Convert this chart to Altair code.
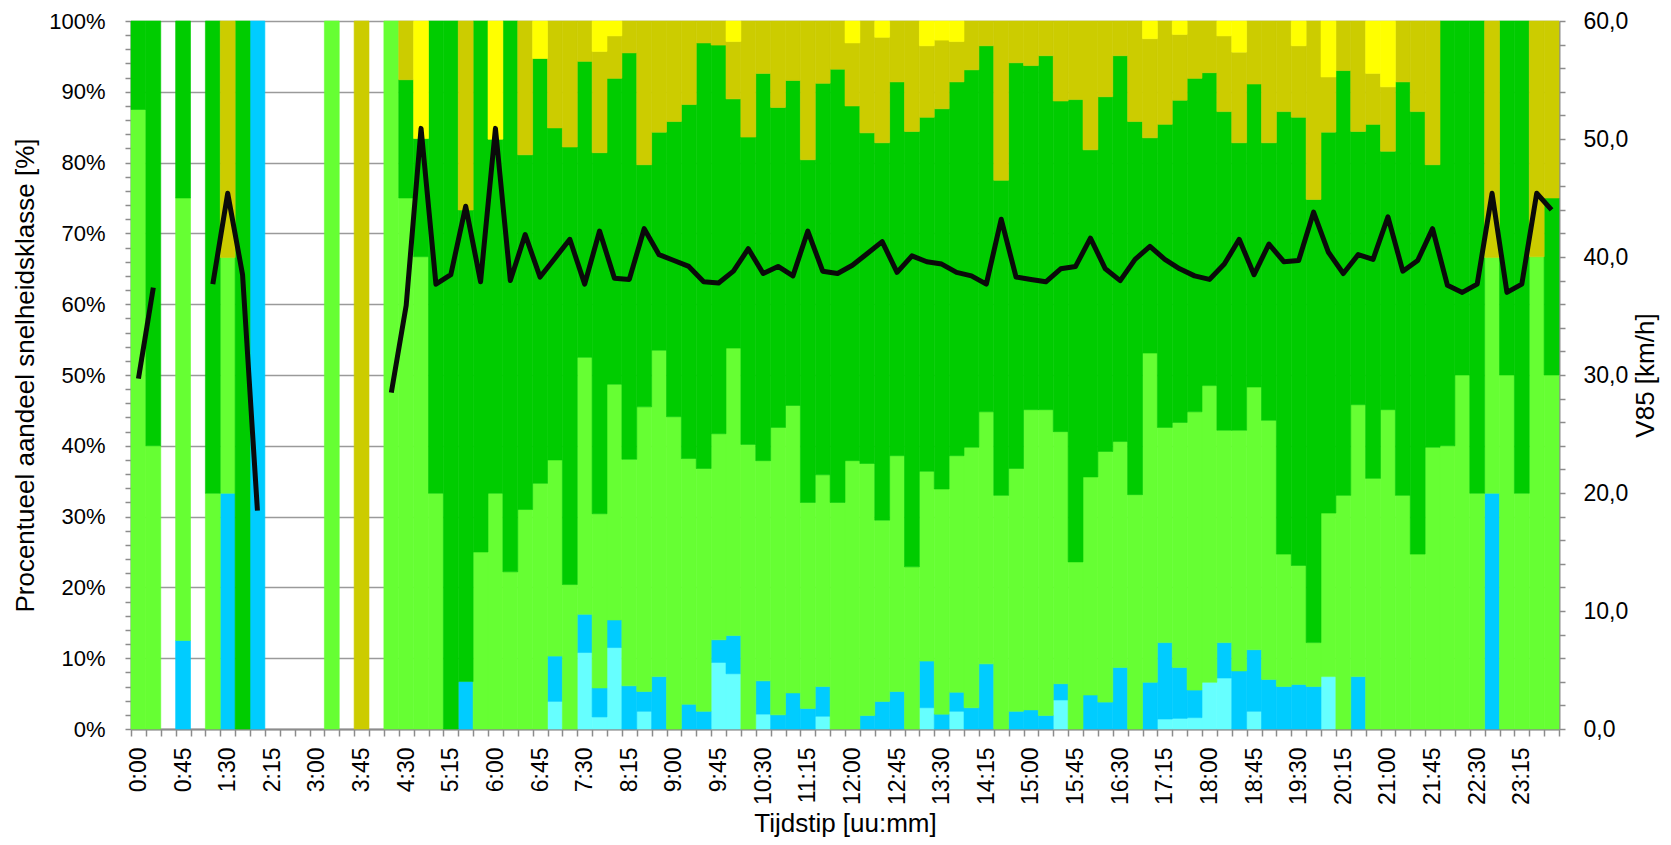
import altair as alt
import pandas as pd

# ---------------- data ----------------
tijden = [f"{u}:{m:02d}" for u in range(24) for m in (0, 15, 30, 45)]
tijd_labels = tijden[::3]

klassen = ["klasse 1", "klasse 2", "klasse 3", "klasse 4", "klasse 5", "klasse 6"]
kleuren = ["#66FFFF", "#00CCFF", "#66FF33", "#00CC00", "#CCCC00", "#FFFF00"]

# percentages per 15-minute slot (96 slots)
k1 = [0, 0, 0, 0, 0, 0, 0, 0, 0, 0, 0, 0, 0, 0, 0, 0,
      0, 0, 0, 0, 0, 0, 0, 0, 0, 0, 0, 0, 3.9, 0, 10.8, 1.7,
      11.5, 0, 2.5, 0, 0, 0, 0, 9.4, 7.8, 0, 2.1, 0, 0, 0, 1.8, 0,
      0, 0, 0, 0, 0, 3.0, 0, 2.5, 0, 0, 0, 0, 0, 0, 4.1, 0,
      0, 0, 0, 0, 0, 1.4, 1.5, 1.6, 6.6, 7.2, 0, 2.5, 0, 0, 0, 0,
      7.4, 0, 0, 0, 0, 0, 0, 0, 0, 0, 0, 0, 0, 0, 0, 0]
k2 = [0, 0, 0, 12.5, 0, 0, 33.3, 0, 100, 0, 0, 0, 0, 0, 0, 0,
      0, 0, 0, 0, 0, 0, 6.7, 0, 0, 0, 0, 0, 6.4, 0, 5.4, 4.1,
      3.9, 6.1, 2.8, 7.4, 0, 3.5, 2.5, 3.2, 5.4, 0, 4.7, 2.0, 5.1, 2.9, 4.2, 0,
      0, 1.9, 3.9, 5.3, 0, 6.6, 2.1, 2.7, 3.0, 9.2, 0, 2.5, 2.7, 1.9, 2.3, 0,
      4.8, 3.8, 8.7, 0, 6.6, 10.8, 7.2, 3.9, 0, 5.0, 8.2, 8.7, 7.0, 6.0, 6.3, 6.0,
      0, 0, 7.4, 0, 0, 0, 0, 0, 0, 0, 0, 33.3, 0, 0, 0, 0]
k3 = [87.5, 40, 0, 62.5, 0, 33.3, 33.3, 0, 0, 0, 0, 0, 0, 100, 0, 0,
      0, 100, 75, 66.7, 33.3, 0, 0, 25, 33.3, 22.2, 31.0, 34.7, 27.7, 20.4, 36.3, 24.6,
      33.3, 32.0, 40.2, 46.1, 44.1, 34.7, 34.3, 29.1, 40.6, 40.2, 31.1, 40.6, 40.6, 29.1, 29.9, 32.0,
      37.9, 35.6, 25.6, 33.3, 22.9, 26.8, 31.8, 33.4, 36.8, 35.6, 33.0, 34.3, 42.4, 43.2, 35.6, 23.6,
      30.8, 35.4, 31.9, 33.1, 46.5, 30.4, 34.6, 39.3, 41.9, 30.0, 34.0, 37.1, 36.6, 18.7, 16.8, 6.2,
      23.1, 33.0, 38.4, 35.4, 45.1, 33.0, 24.7, 39.8, 40, 50, 33.3, 33.3, 50, 33.3, 66.7, 50]
k4 = [12.5, 60, 0, 25, 0, 66.7, 0, 100, 0, 0, 0, 0, 0, 0, 0, 0,
      0, 0, 16.7, 16.7, 66.7, 100, 66.6, 75, 50, 77.8, 50.1, 60.0, 46.9, 61.8, 41.8, 51.0,
      43.2, 57.4, 34.2, 30.8, 41.7, 50.0, 60.1, 54.9, 35.2, 43.4, 54.7, 45.2, 45.9, 48.4, 55.3, 61.2,
      50.1, 46.7, 53.3, 52.8, 61.5, 50.0, 53.7, 52.8, 53.3, 51.7, 44.5, 57.3, 48.6, 50.0, 46.7, 65.3,
      46.2, 50.1, 54.5, 52.7, 30.4, 42.8, 45.5, 47.1, 44.2, 45.0, 40.6, 42.8, 39.2, 62.5, 63.3, 62.6,
      53.8, 60.0, 38.6, 50.0, 36.5, 58.4, 62.5, 39.9, 60, 50, 66.7, 0, 50, 66.7, 0, 25]
k5 = [0, 0, 0, 0, 0, 0, 33.4, 0, 0, 0, 0, 0, 0, 0, 0, 100,
      0, 0, 8.3, 0, 0, 0, 26.7, 0, 0, 0, 18.9, 0, 15.1, 17.8, 5.7, 14.3,
      6.0, 4.5, 20.3, 15.7, 14.2, 11.8, 3.1, 3.4, 8.1, 16.4, 7.4, 12.2, 8.4, 19.6, 8.8, 6.8,
      8.9, 15.8, 14.9, 8.6, 15.6, 10.1, 9.7, 5.7, 6.9, 3.5, 22.5, 5.9, 6.3, 4.9, 11.3, 11.1,
      18.2, 10.7, 4.9, 14.2, 14.0, 14.6, 9.3, 8.1, 7.3, 10.7, 12.8, 8.9, 17.2, 12.8, 10.1, 25.2,
      7.8, 7.0, 15.6, 7.2, 9.1, 8.6, 12.8, 20.3, 0, 0, 0, 33.4, 0, 0, 33.3, 25]
k6 = [0, 0, 0, 0, 0, 0, 0, 0, 0, 0, 0, 0, 0, 0, 0, 0,
      0, 0, 0, 16.6, 0, 0, 0, 0, 16.7, 0, 0, 5.3, 0, 0, 0, 4.3,
      2.1, 0, 0, 0, 0, 0, 0, 0, 2.9, 0, 0, 0, 0, 0, 0, 0,
      3.1, 0, 2.3, 0, 0, 3.5, 2.7, 2.9, 0, 0, 0, 0, 0, 0, 0, 0,
      0, 0, 0, 0, 2.5, 0, 1.9, 0, 0, 2.1, 4.4, 0, 0, 0, 3.5, 0,
      7.9, 0, 0, 7.4, 9.3, 0, 0, 0, 0, 0, 0, 0, 0, 0, 0, 0]

# V85 per slot (km/h), None = no line
v85 = [29.7, 37.4, None, None, None, 37.7, 45.4, 38.5, 18.5, None, None, None, None, None, None, None,
       None, 28.5, 35.9, 50.9, 37.7, 38.5, 44.3, 37.9, 50.9, 38.0, 41.9, 38.3, 39.9, 41.5, 37.7, 42.2,
       38.2, 38.1, 42.4, 40.2, 39.7, 39.2, 37.9, 37.8, 38.8, 40.7, 38.6, 39.2, 38.4, 42.2, 38.8, 38.6,
       39.3, 40.3, 41.3, 38.7, 40.1, 39.6, 39.4, 38.7, 38.4, 37.7, 43.2, 38.3, 38.1, 37.9, 39.0, 39.2,
       41.6, 39.0, 38.0, 39.8, 40.9, 39.8, 39.0, 38.4, 38.1, 39.4, 41.5, 38.5, 41.1, 39.6, 39.7, 43.8,
       40.4, 38.6, 40.2, 39.8, 43.4, 38.8, 39.7, 42.4, 37.6, 37.0, 37.7, 45.4, 37.0, 37.7, 45.4, 44.0]

# ---------------- tables ----------------
rows = []
for ki, (naam, waarden) in enumerate(zip(klassen, [k1, k2, k3, k4, k5, k6])):
    for t, w in zip(tijden, waarden):
        if w > 0:
            rows.append({"tijd": t, "klasse": naam, "volgorde": ki, "aandeel": w})
df = pd.DataFrame(rows)

lrows = []
seg = 0
prev = None
for t, v in zip(tijden, v85):
    if v is None:
        prev = None
        continue
    if prev is None:
        seg += 1
    lrows.append({"tijd": t, "v85": v, "seg": seg})
    prev = v
dl = pd.DataFrame(lrows)

# ---------------- styling ----------------
W, H = 1428, 708
AX = "#8C8C8C"
FONT = "Liberation Sans"
label_list = ",".join(f"'{t}'" for t in tijd_labels)

x_axis = alt.Axis(
    title="Tijdstip [uu:mm]", labelAngle=270, labelOverlap=False,
    labelExpr=f"indexof([{label_list}], datum.value) >= 0 ? datum.value : ''",
    tickBand="extent", grid=False, tickSize=7, tickWidth=1.5, tickColor=AX,
    domainColor=AX, domainWidth=2, labelPadding=11,
    labelFont=FONT, labelFontSize=23, labelColor="#000000",
    titleFont=FONT, titleFontSize=26, titleFontWeight="normal", titleColor="#000000",
    titleX=W / 2, titleY=81, titleBaseline="top", titleAlign="center",
)
x_enc = alt.X("tijd:O", sort=tijden,
              scale=alt.Scale(domain=tijden, paddingInner=0, paddingOuter=0),
              axis=x_axis)

y_axis = alt.Axis(
    title="Procentueel aandeel snelheidsklasse [%]", values=list(range(0, 101, 2)),
    labelExpr="datum.value % 10 == 0 ? datum.value + '%' : ''",
    grid=True, gridColor="#9A9A9A", gridWidth=1.5,
    gridOpacity={"condition": {"test": "datum.value % 10 == 0", "value": 1}, "value": 0},
    tickSize=6, tickWidth=1.5, tickColor=AX, domainColor=AX, domainWidth=2,
    labelPadding=20, labelFont=FONT, labelFontSize=22, labelColor="#000000",
    titleFont=FONT, titleFontSize=26, titleFontWeight="normal", titleColor="#000000",
    titleAngle=270, titleX=-106, titleY=H / 2, titleBaseline="middle", titleAlign="center",
)

bars = alt.Chart(df).mark_bar(strokeWidth=0.6).encode(
    x=x_enc,
    y=alt.Y("aandeel:Q", stack="zero", scale=alt.Scale(domain=[0, 100], nice=False), axis=y_axis),
    color=alt.Color("klasse:N", scale=alt.Scale(domain=klassen, range=kleuren), legend=None),
    stroke=alt.Stroke("klasse:N", scale=alt.Scale(domain=klassen, range=kleuren), legend=None),
    order=alt.Order("volgorde:Q", sort="ascending"),
)

r_axis = alt.Axis(
    title="V85 [km/h]", orient="right", values=list(range(0, 61, 2)),
    labelExpr="datum.value % 10 == 0 ? replace(format(datum.value, '.1f'), '.', ',') : ''",
    grid=False, tickSize=6, tickWidth=1.5, tickColor=AX, domainColor=AX, domainWidth=2,
    labelPadding=18, labelFont=FONT, labelFontSize=23, labelColor="#000000",
    titleFont=FONT, titleFontSize=26, titleFontWeight="normal", titleColor="#000000",
    titleAngle=270, titleX=86, titleY=H / 2, titleBaseline="middle", titleAlign="center",
)

line = alt.Chart(dl).mark_line(color="#0A0A0A", strokeWidth=5, strokeJoin="round").encode(
    x=x_enc,
    y=alt.Y("v85:Q", scale=alt.Scale(domain=[0, 60], nice=False), axis=r_axis),
    detail="seg:N",
)

chart = alt.layer(bars, line).resolve_scale(y="independent").properties(
    width=W, height=H,
    padding={"left": 123, "top": 13, "right": 104, "bottom": 108},
    autosize=alt.AutoSizeParams(type="none"),
    background="#FFFFFF",
).configure_view(strokeWidth=0)

chart.save("out.html", embed_options={"renderer": "svg", "actions": False})
